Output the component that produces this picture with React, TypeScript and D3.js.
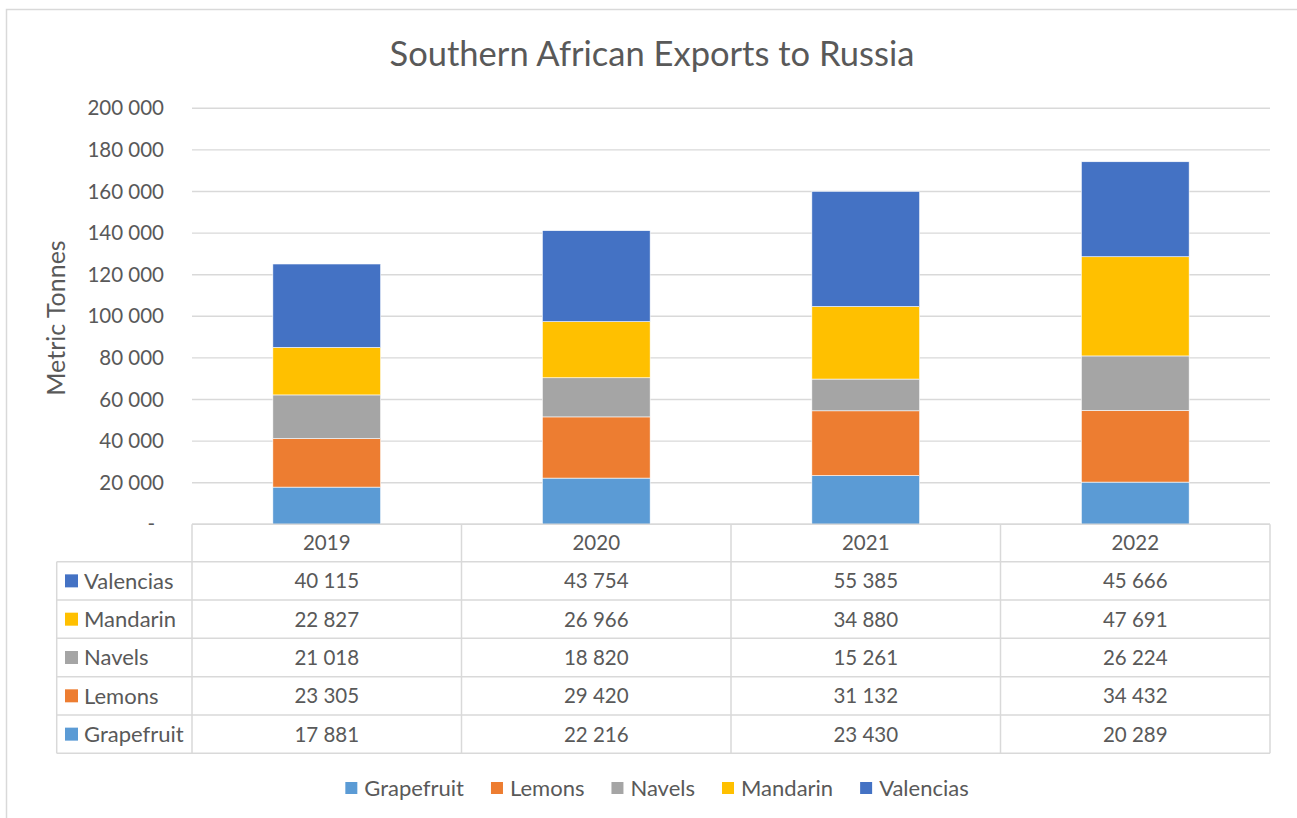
import React, { useMemo } from "react";
import * as d3 from "d3";

const years = ["2019", "2020", "2021", "2022"];
const seriesNames = ["Grapefruit", "Lemons", "Navels", "Mandarin", "Valencias"];
const grapefruit = [17881, 22216, 23430, 20289];
const lemons = [23305, 29420, 31132, 34432];
const navels = [21018, 18820, 15261, 26224];
const mandarin = [22827, 26966, 34880, 47691];
const valencias = [40115, 43754, 55385, 45666];
const colors = ["#5B9BD5", "#ED7D31", "#A5A5A5", "#FFC000", "#4472C4"];
const yTicks = [0, 20000, 40000, 60000, 80000, 100000, 120000, 140000, 160000, 180000, 200000];
const title = "Southern African Exports to Russia";
const yLabel = "Metric Tonnes";

const FONT = "Lato, 'Open Sans', sans-serif";
const TXT = "#595959";
const GRID = "#D9D9D9";

const fmt = (v: number) => (v === 0 ? "-" : d3.format(",")(v).replace(/,/g, " "));

function measure(text: string, size: number) {
  const c = document.createElement("canvas").getContext("2d")!;
  c.font = `${size}px Lato`;
  return c.measureText(text).width;
}

export default function App() {
  const W = 1297, H = 818;
  const plotL = 192, plotR = 1270, plotT = 108.3, plotB = 524.3;
  const valuesBySeries = [grapefruit, lemons, navels, mandarin, valencias];

  const rows = years.map((yr, i) => {
    const r: any = { year: yr };
    seriesNames.forEach((s, k) => (r[s] = valuesBySeries[k][i]));
    return r;
  });
  const stack = d3.stack<any>().keys(seriesNames)(rows);

  const x = d3.scaleBand().domain(years).range([plotL, plotR]).paddingInner(0.6).paddingOuter(0.3);
  const xCol = d3.scaleBand().domain(years).range([plotL, plotR]);
  const y = d3.scaleLinear().domain([0, 200000]).range([plotB, plotT]);

  const rowOrder = [...seriesNames].reverse();
  const headerTop = plotB, headerBot = 561.7, tableBot = 753.3, tableL = 56.7;
  const rowY = d3.scaleBand().domain(rowOrder).range([headerBot, tableBot]);

  const fsNum = 20.5;
  const fsTxt = 22;
  const legend = useMemo(() => {
    const sq = 12, gap = 7, between = 27;
    const ws = seriesNames.map((s) => measure(s, fsTxt));
    const total = ws.reduce((a, b) => a + b + sq + gap, 0) + between * (seriesNames.length - 1);
    let cx = 657 - total / 2;
    return seriesNames.map((s, i) => {
      const item = { name: s, x: cx, color: colors[i] };
      cx += sq + gap + ws[i] + between;
      return item;
    });
  }, []);

  return (
    <svg width={W} height={H} style={{ position: "absolute", left: 0, top: 0, background: "#fff" }} fontFamily={FONT}>
      <rect x={0} y={0} width={W} height={H} fill="#fff" />
      {/* chart border */}
      <path d={`M${W},9.5 H6.5 V${H}`} fill="none" stroke={GRID} strokeWidth={1.5} />
      <text x={652} y={66} textAnchor="middle" fontSize={34.5} fill={TXT}>{title}</text>

      {/* gridlines */}
      {yTicks.map((t) => (
        <line key={t} x1={plotL} x2={plotR} y1={y(t)} y2={y(t)} stroke={GRID} strokeWidth={1.4} />
      ))}
      {yTicks.map((t) => (
        <text key={"l" + t} x={t === 0 ? 155 : 164} y={y(t)} dy="0.35em" textAnchor="end" fontSize={fsNum} fill={TXT}>
          {fmt(t)}
        </text>
      ))}
      <text transform={`translate(65,318) rotate(-90)`} textAnchor="middle" fontSize={25} fill={TXT}>{yLabel}</text>

      {/* bars */}
      {stack.map((layer, k) => (
        <g key={layer.key} fill={colors[k]}>
          {layer.map((d, i) => (
            <rect key={i} x={x(years[i])!} width={x.bandwidth()} y={y(d[1])} height={y(d[0]) - y(d[1])} stroke="#fff" strokeWidth={0.6} />
          ))}
        </g>
      ))}

      {/* data table */}
      <g stroke={GRID} strokeWidth={1.5} fill="none">
        <line x1={plotL} x2={plotR} y1={headerTop} y2={headerTop} />
        {[headerBot, ...rowOrder.map((r) => rowY(r)! + rowY.bandwidth())].map((yy, i) => (
          <line key={i} x1={tableL} x2={plotR} y1={yy} y2={yy} />
        ))}
        <line x1={tableL} x2={tableL} y1={headerBot} y2={tableBot} />
        {years.map((yr) => (
          <line key={yr} x1={xCol(yr)!} x2={xCol(yr)!} y1={headerTop} y2={tableBot} />
        ))}
        <line x1={plotR} x2={plotR} y1={headerTop} y2={tableBot} />
      </g>
      {years.map((yr) => (
        <text key={yr} x={xCol(yr)! + xCol.bandwidth() / 2} y={(headerTop + headerBot) / 2} dy="0.36em" textAnchor="middle" fontSize={fsNum} fill={TXT}>
          {yr}
        </text>
      ))}
      {rowOrder.map((s) => {
        const k = seriesNames.indexOf(s);
        const cy = rowY(s)! + rowY.bandwidth() / 2;
        return (
          <g key={s}>
            <rect x={65} y={cy - 6.5} width={13} height={13} fill={colors[k]} />
            <text x={84} y={cy} dy="0.36em" fontSize={fsTxt} fill={TXT}>{s}</text>
            {years.map((yr, i) => (
              <text key={yr} x={xCol(yr)! + xCol.bandwidth() / 2} y={cy} dy="0.36em" textAnchor="middle" fontSize={fsNum} fill={TXT}>
                {fmt(valuesBySeries[k][i])}
              </text>
            ))}
          </g>
        );
      })}

      {/* legend */}
      {legend.map((l) => (
        <g key={l.name}>
          <rect x={l.x} y={782} width={12} height={12} fill={l.color} />
          <text x={l.x + 19} y={788} dy="0.36em" fontSize={fsTxt} fill={TXT}>{l.name}</text>
        </g>
      ))}
    </svg>
  );
}
